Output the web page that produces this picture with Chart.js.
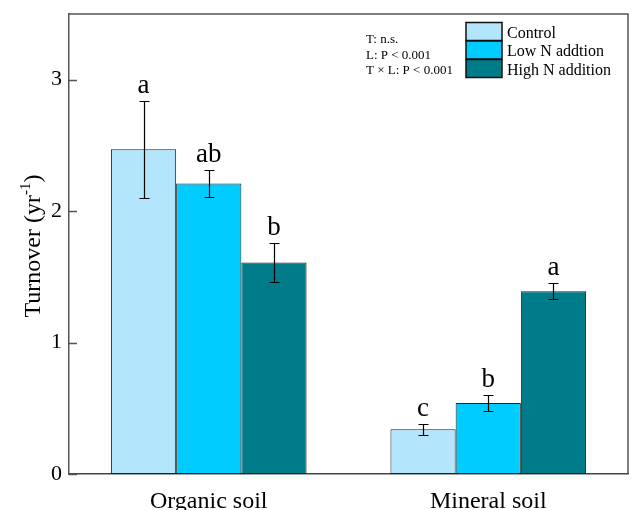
<!DOCTYPE html>
<html>
<head>
<meta charset="utf-8">
<script src="https://cdn.jsdelivr.net/npm/chart.js@4/dist/chart.umd.min.js"></script>
<style>
  html, body { margin: 0; padding: 0; background: #fff; }
  #wrap { width: 632px; height: 510px; }
</style>
</head>
<body>
<div id="wrap"><canvas id="c" width="632" height="510"></canvas></div>
<script>
// Soil categories and treatment series
const categories = ['Organic soil', 'Mineral soil'];
const seriesNames = ['Control', 'Low N addtion', 'High N addition'];

// Mean turnover (yr-1) and error per category
const controlMean = [2.47, 0.34];
const controlErr  = [0.37, 0.04];
const lowNMean    = [2.21, 0.54];
const lowNErr     = [0.10, 0.06];
const highNMean   = [1.61, 1.39];
const highNErr    = [0.15, 0.06];

// Significance letters per bar
const controlLetters = ['a', 'c'];
const lowNLetters    = ['ab', 'b'];
const highNLetters   = ['b', 'a'];

// Y-axis ticks and statistics annotation
const yTicks = [0, 1, 2, 3];
const statsLines = ['T: n.s.', 'L: P < 0.001', 'T \u00d7 L: P < 0.001'];

const seriesColors = ['#B3E5FC', '#00CCFF', '#007B8A'];
const FONT = '"Liberation Serif", "Times New Roman", serif';

const means = [controlMean, lowNMean, highNMean];
const errs = [controlErr, lowNErr, highNErr];
const letters = [controlLetters, lowNLetters, highNLetters];

const decorations = {
  id: 'decorations',
  afterDatasetsDraw(chart) {
    const ctx = chart.ctx;
    const y = chart.scales.y;
    const area = chart.chartArea;
    ctx.save();

    // top and right frame lines
    ctx.strokeStyle = '#555';
    ctx.lineWidth = 1.5;
    ctx.beginPath();
    ctx.moveTo(area.left, area.top);
    ctx.lineTo(area.right, area.top);
    ctx.lineTo(area.right, area.bottom);
    ctx.stroke();

    // inward tick marks on the y axis
    ctx.beginPath();
    yTicks.forEach(v => {
      const py = Math.round(y.getPixelForValue(v)) + 0.5;
      ctx.moveTo(area.left, py);
      ctx.lineTo(area.left + 8, py);
    });
    ctx.stroke();

    // error bars and significance letters
    ctx.strokeStyle = '#000';
    ctx.fillStyle = '#000';
    ctx.lineWidth = 1.2;
    ctx.textAlign = 'center';
    ctx.textBaseline = 'alphabetic';
    ctx.font = '27px ' + FONT;
    means.forEach((m, di) => {
      const meta = chart.getDatasetMeta(di);
      meta.data.forEach((bar, i) => {
        const x = Math.round(bar.x) + 0.5;
        const yt = Math.round(y.getPixelForValue(m[i] + errs[di][i])) + 0.5;
        const yb = Math.round(y.getPixelForValue(m[i] - errs[di][i])) + 0.5;
        ctx.beginPath();
        ctx.moveTo(x, yt); ctx.lineTo(x, yb);
        ctx.moveTo(x - 5, yt); ctx.lineTo(x + 5, yt);
        ctx.moveTo(x - 5, yb); ctx.lineTo(x + 5, yb);
        ctx.stroke();
        ctx.fillText(letters[di][i], bar.x, yt - 9);
      });
    });

    // y-axis title with superscript
    ctx.save();
    ctx.translate(40, 246);
    ctx.rotate(-Math.PI / 2);
    ctx.textAlign = 'left';
    const mainFont = '24px ' + FONT;
    const supFont = '15px ' + FONT;
    ctx.font = mainFont;
    const p1 = 'Turnover (yr', p3 = ')';
    const w1 = ctx.measureText(p1).width;
    const w3 = ctx.measureText(p3).width;
    ctx.font = supFont;
    const w2 = ctx.measureText('-1').width;
    const total = w1 + w2 + w3;
    let x0 = -total / 2;
    ctx.font = mainFont;
    ctx.fillText(p1, x0, 0);
    ctx.font = supFont;
    ctx.fillText('-1', x0 + w1, -10);
    ctx.font = mainFont;
    ctx.fillText(p3, x0 + w1 + w2, 0);
    ctx.restore();

    // statistics annotation
    ctx.textAlign = 'left';
    ctx.font = '13px ' + FONT;
    statsLines.forEach((t, i) => ctx.fillText(t, 366, 43 + i * 15.5));

    // legend
    ctx.font = '16px ' + FONT;
    chart.data.datasets.forEach((ds, i) => {
      const top = 22.5 + i * 18.5;
      ctx.fillStyle = ds.backgroundColor;
      ctx.fillRect(466, top, 36, 18);
      ctx.strokeStyle = '#111';
      ctx.lineWidth = 1.5;
      ctx.strokeRect(466, top, 36, 18);
      ctx.fillStyle = '#000';
      ctx.fillText(ds.label, 507, top + 15);
    });

    ctx.restore();
  }
};

new Chart(document.getElementById('c'), {
  type: 'bar',
  data: {
    labels: categories,
    datasets: seriesNames.map((name, i) => ({
      label: name,
      data: means[i],
      backgroundColor: seriesColors[i],
      borderColor: '#222',
      borderWidth: 1,
      borderSkipped: false,
      barPercentage: 1.0,
      categoryPercentage: 0.7
    }))
  },
  options: {
    responsive: false,
    animation: false,
    devicePixelRatio: 1,
    layout: { padding: { top: 14, right: 4, left: 0, bottom: 0 } },
    plugins: {
      legend: { display: false },
      tooltip: { enabled: false },
      title: { display: false }
    },
    scales: {
      x: {
        grid: { display: false, drawTicks: false },
        border: { display: true, color: '#444', width: 1.5 },
        ticks: { color: '#000', font: { family: FONT, size: 24 }, padding: 13 },
        afterFit(s) { s.height = 36; s.paddingLeft = 0; s.paddingRight = 0; }
      },
      y: {
        min: 0,
        max: 3.5,
        grid: { display: false, drawTicks: false },
        border: { display: true, color: '#555', width: 1.5 },
        ticks: { color: '#000', font: { family: FONT, size: 22 }, padding: 7 },
        afterBuildTicks(s) { s.ticks = yTicks.map(v => ({ value: v })); },
        afterFit(s) { s.width = 69; s.paddingTop = 0; s.paddingBottom = 0; }
      }
    }
  },
  plugins: [decorations]
});
</script>
</body>
</html>
